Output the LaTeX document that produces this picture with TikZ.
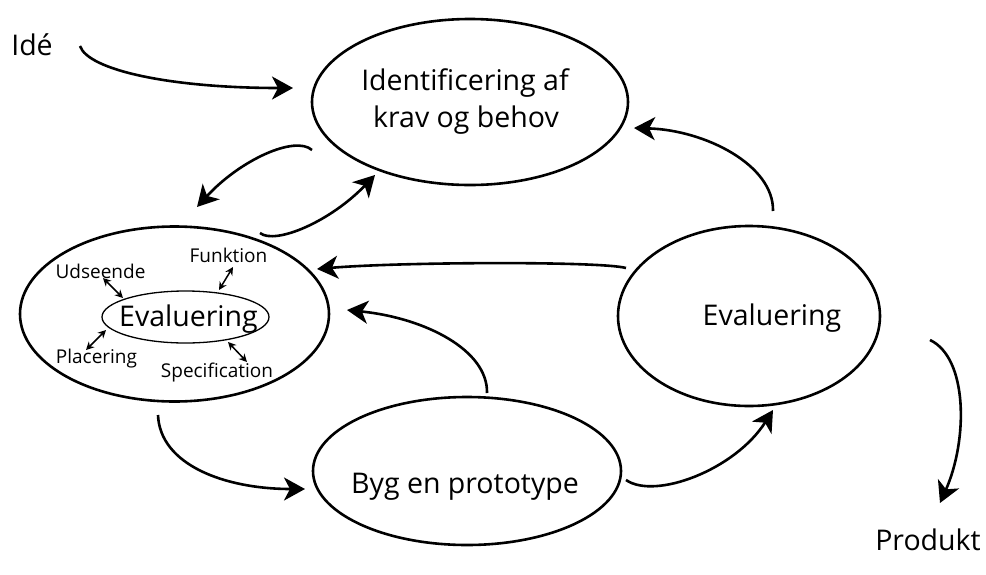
\documentclass[tikz,border=0pt]{standalone}
\usepackage{fontspec}
\setmainfont{Open Sans}
\usetikzlibrary{arrows.meta,shapes.geometric}
\begin{document}
\begin{tikzpicture}[x=1pt,y=-1pt,
  bubble/.style={ellipse, draw, line width=2.6pt, inner sep=0pt},
  flow/.style={line width=2.6pt, -{Stealth[length=21pt,width=23pt,inset=6pt]}},
  link/.style={line width=1.5pt, {Stealth[length=8pt,width=8pt]}-{Stealth[length=8pt,width=8pt]}},
  big/.style={font=\fontsize{28.5}{37}\selectfont, anchor=base, inner sep=0pt},
  small/.style={font=\fontsize{19}{22}\selectfont, anchor=base, inner sep=0pt}]
\useasboundingbox (0,0) rectangle (986,574);

% the four stages
\node[bubble, minimum width=316pt, minimum height=166pt] (req) at (470,102) {};
\node[bubble, minimum width=309pt, minimum height=175pt] (evalL) at (174.5,314) {};
\node[bubble, minimum width=262pt, minimum height=180pt] (evalR) at (749,316) {};
\node[bubble, minimum width=308pt, minimum height=148pt] (proto) at (467,471) {};
\node[ellipse, draw, line width=1.3pt, inner sep=0pt, minimum width=167pt, minimum height=52pt] (evalIn) at (185.5,317) {};

% stage texts
\node[big] (reqA) at (465,90) {Identificering af};
\node[big] (reqB) at (466,127) {krav og behov};
\node[big] (evalRtxt) at (772,325) {Evaluering};
\node[big] (protoTxt) at (465,493) {Byg en prototype};
\node[big] (evalInTxt) at (188.5,326) {Evaluering};
\node[big] (ide) at (32,55) {Idé};
\node[big] (produkt) at (928,550) {Produkt};

% criteria around the inner evaluation
\node[small] (uds) at (100.5,278) {Udseende};
\node[small] (fun) at (228.5,262) {Funktion};
\node[small] (pla) at (96.5,363) {Placering};
\node[small] (spe) at (217,377) {Specification};

\coordinate (u1) at (103,278); \coordinate (u2) at (123,298);
\coordinate (f1) at (233,267); \coordinate (f2) at (219,290);
\coordinate (p1) at (106,330); \coordinate (p2) at (86,350);
\coordinate (s1) at (228,342); \coordinate (s2) at (247,362);
\draw[link] (u1) -- (u2);
\draw[link] (f1) -- (f2);
\draw[link] (p1) -- (p2);
\draw[link] (s1) -- (s2);

% connector end points
\coordinate (a1s) at (80,46);   \coordinate (a1e) at (293,88);
\coordinate (a2s) at (312,150); \coordinate (a2e) at (197,207);
\coordinate (a3s) at (260,233); \coordinate (a3e) at (375,175);
\coordinate (a4s) at (773,211); \coordinate (a4e) at (634,128);
\coordinate (a5s) at (626,268); \coordinate (a5e) at (317,269);
\coordinate (a6s) at (487,393); \coordinate (a6e) at (347,310);
\coordinate (a7s) at (158,415); \coordinate (a7e) at (305,489);
\coordinate (a8s) at (626,480); \coordinate (a8e) at (773,410);
\coordinate (a9s) at (930,340); \coordinate (a9e) at (940,503);

% process flow
\draw[flow] (a1s) .. controls (88,70) and (170,88) .. (a1e);
\draw[flow] (a2s) .. controls (295,135) and (240,160) .. (a2e);
\draw[flow] (a3s) .. controls (275,245) and (330,222) .. (a3e);
\draw[flow] (a4s) .. controls (774,165) and (705,130) .. (a4e);
\draw[flow] (a5s) .. controls (600,261) and (400,262) .. (a5e);
\draw[flow] (a6s) .. controls (488,350) and (425,318) .. (a6e);
\draw[flow] (a7s) .. controls (160,465) and (225,489) .. (a7e);
\draw[flow] (a8s) .. controls (655,500) and (735,470) .. (a8e);
\draw[flow] (a9s) .. controls (968,358) and (968,440) .. (a9e);
\end{tikzpicture}
\end{document}
